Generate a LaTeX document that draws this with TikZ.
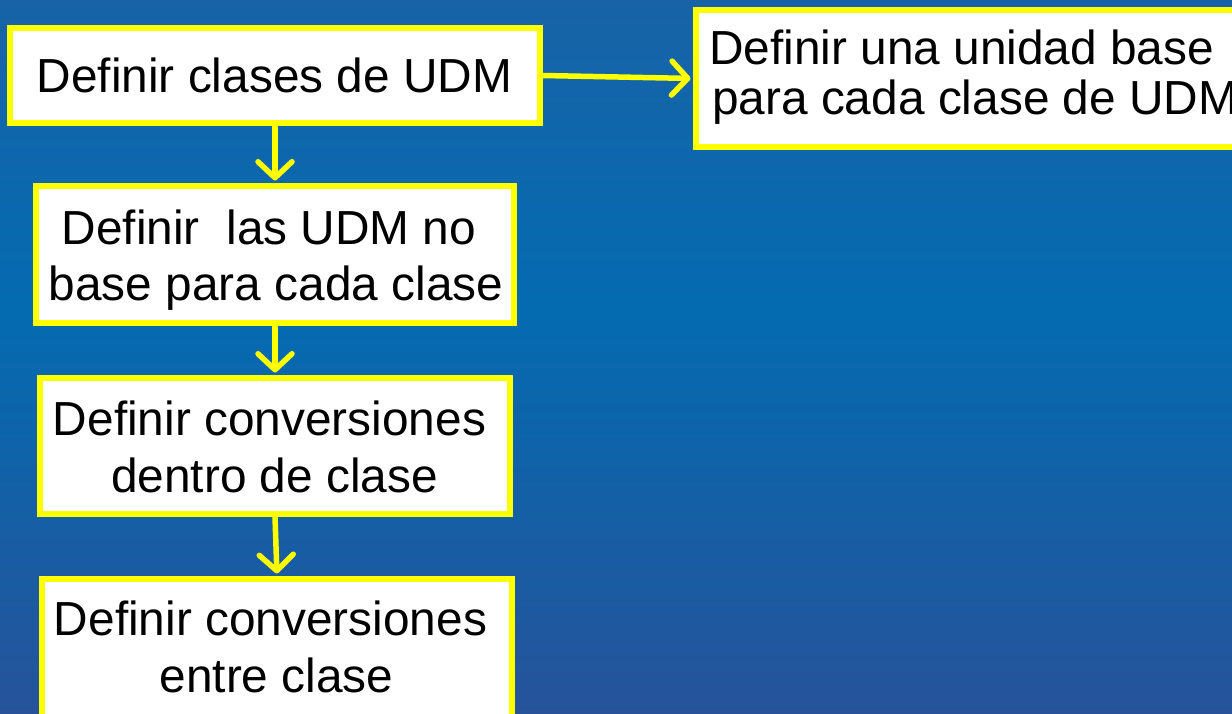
\documentclass[tikz,border=0pt]{standalone}
\usepackage{fontspec}
\setmainfont{Liberation Sans}
\usetikzlibrary{arrows.meta}
\definecolor{bgtop}{HTML}{1863A7}
\definecolor{bgmid}{HTML}{046BB1}
\definecolor{bgbot}{HTML}{26539A}
\definecolor{ylw}{HTML}{FFFF00}
\begin{document}
\begin{tikzpicture}[x=1pt,y=-1pt,
  stepbox/.style={rectangle, draw=ylw, fill=white, line width=5.75pt, inner sep=0pt},
  lbl/.style={font=\fontsize{47.8}{57}\selectfont, inner sep=0pt, text=black},
  conn/.style={draw=ylw, line width=5.5pt, line cap=round,
    -{Straight Barb[length=16pt,width=34pt,round]}, shorten >=2.5pt}]
\path[use as bounding box] (0,0) rectangle (1232,714);
\clip (0,0) rectangle (1232,714);
\shade[top color=bgtop, bottom color=bgmid] (0,0) rectangle (1232,312);
\shade[top color=bgmid, bottom color=bgbot] (0,310) rectangle (1232,714);

% boxes
\node[stepbox, minimum width=530.25pt, minimum height=95.25pt] (b1) at (275,75.5) {};
\node[stepbox, minimum width=478.25pt, minimum height=137.25pt] (b2) at (275,254.5) {};
\node[stepbox, minimum width=470.25pt, minimum height=136.25pt] (b3) at (275,446) {};
\node[stepbox, minimum width=470.25pt, minimum height=158.25pt] (b4) at (277,658) {};
\node[stepbox, minimum width=561.25pt, minimum height=137.25pt] (b5) at (976.5,78.5) {};

% texts
\node[lbl, anchor=base] (t1) at (274.5,92.7) {Definir clases de UDM};
\node[lbl, anchor=base] (t2a) at (269,244) {Definir\ \ las UDM no};
\node[lbl, anchor=base] (t2b) at (276,301) {base para cada clase};
\node[lbl, anchor=base] (t3a) at (269.5,435) {Definir conversiones};
\node[lbl, anchor=base] (t3b) at (274.5,492) {dentro de clase};
\node[lbl, anchor=base] (t4a) at (270.5,635) {Definir conversiones};
\node[lbl, anchor=base] (t4b) at (276.5,692) {entre clase};
\node[lbl, anchor=base west] (t5a) at (709,65) {Definir una unidad base};
\node[lbl, anchor=base west] (t5b) at (712,115) {para cada clase de UDM};

% connectors
\draw[conn] (b1.south) -- (b2.north);
\draw[conn] (b2.south) -- (b3.north);
\draw[conn] (b3.south) -- (b4.north);
\draw[conn] (b1.east) -- (b5.west);
\end{tikzpicture}
\end{document}
